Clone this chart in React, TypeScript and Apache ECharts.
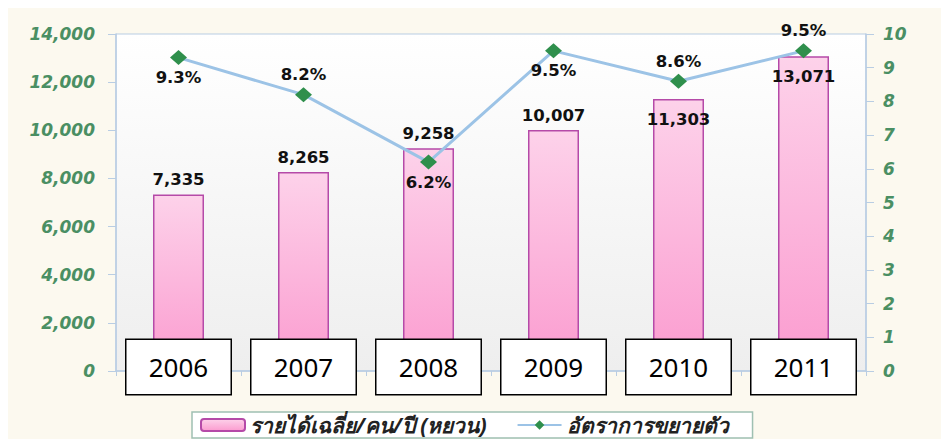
import React, { useEffect, useRef } from "react";
import * as echarts from "echarts";

const years = ["2006", "2007", "2008", "2009", "2010", "2011"];
const income = [7335, 8265, 9258, 10007, 11303, 13071];
const growth = [9.3, 8.2, 6.2, 9.5, 8.6, 9.5];
const incomeName = "รายได้เฉลี่ย/คน/ปี (หยวน)";
const growthName = "อัตราการขยายตัว";

// label placement styles (not data)
const incomeLabelPos = ["top", "top", "top", "top", "insideTop", "insideTop"];
const growthLabelPos = ["bottom", "top", "bottom", "bottom", "top", "top"];

const green = "#4a8f63";
const axisBlue = "#b9cde3";
const labelFont = "'DejaVu Sans', Verdana, sans-serif";

export default function App() {
  const ref = useRef<HTMLDivElement>(null);
  useEffect(() => {
    if (!ref.current) return;
    const chart = echarts.init(ref.current, null, { renderer: "svg" });
    chart.setOption({
      animation: false,
      backgroundColor: "#fcf9ef",
      grid: {
        left: 108,
        right: 83,
        top: 26,
        bottom: 68,
        show: true,
        borderColor: axisBlue,
        borderWidth: 1,
        backgroundColor: new echarts.graphic.LinearGradient(0, 0, 0, 1, [
          { offset: 0, color: "#ffffff" },
          { offset: 1, color: "#eeeeee" },
        ]),
      },
      legend: {
        left: 184,
        top: 404,
        backgroundColor: "#ffffff",
        borderColor: "#9fc0b2",
        borderWidth: 1.5,
        borderRadius: 0,
        padding: [0, 24, 0, 8],
        itemGap: 30,
        itemWidth: 44,
        itemHeight: 12,
        textStyle: {
          fontFamily: "'Noto Sans', 'DejaVu Sans', sans-serif",
          fontStyle: "italic",
          fontWeight: "bold",
          fontSize: 21,
          lineHeight: 26,
          color: "#222",
        },
        data: [incomeName, growthName],
      },
      xAxis: {
        type: "category",
        data: years,
        z: 10,
        axisLine: { lineStyle: { color: axisBlue, width: 1.5 } },
        axisTick: { show: true, lineStyle: { color: axisBlue } },
        axisLabel: {
          margin: -31,
          interval: 0,
          color: "#000",
          fontFamily: "'Noto Sans', 'Open Sans', sans-serif",
          fontSize: 26,
          backgroundColor: "#ffffff",
          borderColor: "#000000",
          borderWidth: 1.5,
          width: 104,
          height: 54,
          lineHeight: 54,
          align: "center",
        },
      },
      yAxis: [
        {
          type: "value",
          min: 0,
          max: 14000,
          interval: 2000,
          splitLine: { show: false },
          axisLine: { show: true, lineStyle: { color: axisBlue, width: 1.5 } },
          axisTick: { show: true, length: 8, lineStyle: { color: axisBlue } },
          axisLabel: {
            margin: 21,
            color: green,
            fontFamily: labelFont,
            fontStyle: "italic",
            fontWeight: "bold",
            fontSize: 17,
            formatter: (v: number) => v.toLocaleString("en-US"),
          },
        },
        {
          type: "value",
          min: 0,
          max: 10,
          interval: 1,
          splitLine: { show: false },
          axisLine: { show: true, lineStyle: { color: axisBlue, width: 1.5 } },
          axisTick: { show: true, length: 8, lineStyle: { color: axisBlue } },
          axisLabel: {
            margin: 17,
            color: green,
            fontFamily: labelFont,
            fontStyle: "italic",
            fontWeight: "bold",
            fontSize: 17,
          },
        },
      ],
      series: [
        {
          name: incomeName,
          type: "bar",
          barWidth: 51,
          yAxisIndex: 0,
          itemStyle: {
            color: new echarts.graphic.LinearGradient(0, 0, 0, 1, [
              { offset: 0, color: "#fdd2ea" },
              { offset: 1, color: "#fb9bcf" },
            ]),
            borderColor: "#b54aa8",
            borderWidth: 1.5,
          },
          data: income.map((v, i) => ({
            value: v,
            label: {
              position: incomeLabelPos[i],
              distance: incomeLabelPos[i] === "top" ? 6 : 12,
            },
          })),
          label: {
            show: true,
            color: "#111",
            fontFamily: labelFont,
            fontWeight: "bold",
            fontSize: 16.5,
            formatter: (p: any) => Number(p.value).toLocaleString("en-US"),
          },
        },
        {
          name: growthName,
          type: "line",
          yAxisIndex: 1,
          symbol: "diamond",
          symbolSize: [17, 15],
          lineStyle: { color: "#9cc3e6", width: 3 },
          itemStyle: { color: "#2f8f4c" },
          data: growth.map((v, i) => ({
            value: v,
            label: { position: growthLabelPos[i] },
          })),
          label: {
            show: true,
            distance: 4,
            color: "#111",
            fontFamily: labelFont,
            fontWeight: "bold",
            fontSize: 16.5,
            formatter: (p: any) => p.value.toFixed(1) + "%",
          },
          z: 5,
        },
      ],
    });
    return () => chart.dispose();
  }, []);
  return <div ref={ref} style={{ width: 941, height: 431 }} />;
}
